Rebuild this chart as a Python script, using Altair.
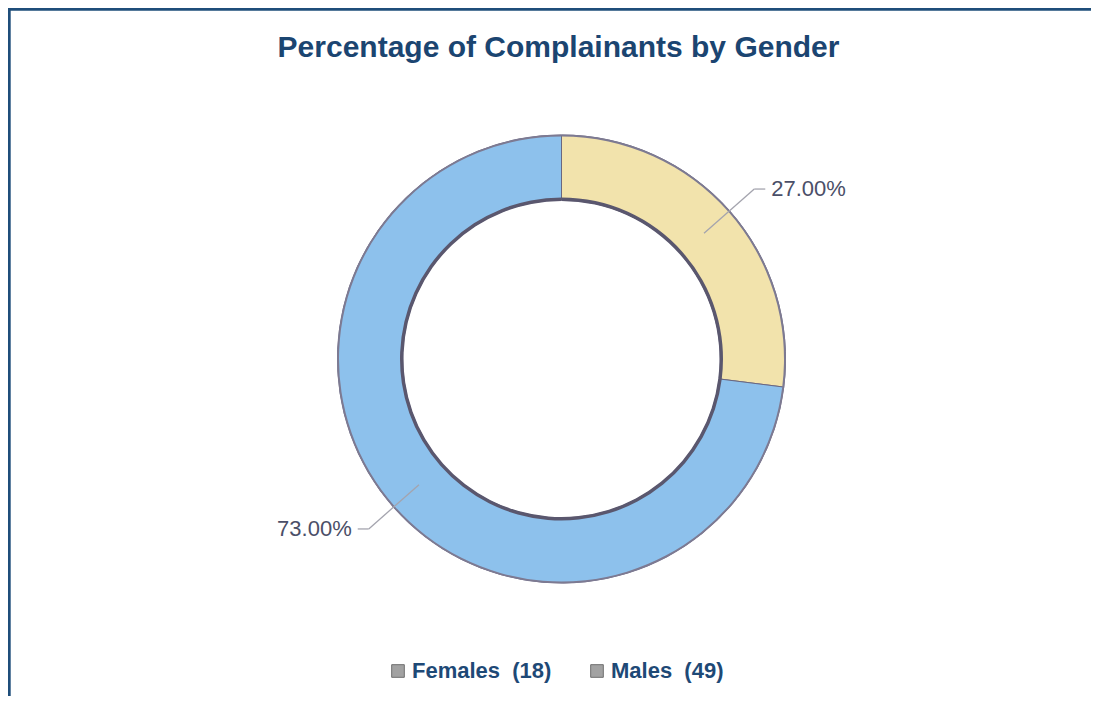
import altair as alt
import pandas as pd

# ---- data ----
genders = ["Females", "Males"]
counts = [18, 49]
percents = [27.0, 73.0]
order_idx = [0, 1]
slice_colors = ["#F2E3AC", "#8DC1EC"]

NB = "\u00a0"
legend_labels = [f"{g}{NB}{NB}({c})" for g, c in zip(genders, counts)]

df = pd.DataFrame({"gender": genders, "count": counts, "pct": percents, "idx": order_idx,
                   "entry": legend_labels})

# ---- layout (plot-area pixels) ----
W, H = 1083, 688
CX, CY = 553.5, 351.0
R_OUT, R_IN = 224, 159
R_LEAD0, R_LEAD1, HOOK = 190, 257, 11

base = alt.Chart(df)

arcs = base.mark_arc(innerRadius=R_IN, outerRadius=R_OUT, stroke="#6a6780", strokeWidth=1).encode(
    theta=alt.Theta("pct:Q", stack=True),
    order=alt.Order("idx:Q"),
    color=alt.Color("gender:N", scale=alt.Scale(domain=genders, range=slice_colors), legend=None),
    x=alt.value(CX),
    y=alt.value(CY),
)

# legend carrier: points hidden beneath the ring whose shape channel yields the grey legend icons
legend_layer = base.mark_point(
    filled=True, color="#a2a2a2", stroke="#6f6f6f", strokeWidth=1, size=100, opacity=1
).encode(
    shape=alt.Shape(
        "entry:N",
        scale=alt.Scale(domain=legend_labels, range=["square", "square"]),
        legend=alt.Legend(
            title=None,
            orient="none",
            legendX=379,
            legendY=652,
            direction="horizontal",
            symbolSize=160,
            symbolStrokeWidth=1,
            symbolOpacity=1,
            labelFont="Liberation Sans",
            labelFontWeight="bold",
            labelFontSize=22,
            labelColor="#1E4976",
            labelOffset=3,
            columnPadding=34,
        ),
    ),
    x=alt.value(CX - 190),
    y=alt.value(CY),
)

inner_ring = base.mark_arc(innerRadius=R_IN - 1, outerRadius=R_IN + 2.5).encode(
    theta=alt.Theta("pct:Q", stack=True),
    order=alt.Order("idx:Q"),
    color=alt.value("#5a576e"),
    x=alt.value(CX),
    y=alt.value(CY),
)

outer_ring = base.mark_arc(innerRadius=R_OUT - 1.5, outerRadius=R_OUT + 0.5).encode(
    theta=alt.Theta("pct:Q", stack=True),
    order=alt.Order("idx:Q"),
    color=alt.value("#7d7a92"),
    x=alt.value(CX),
    y=alt.value(CY),
)

lab = base.transform_window(
    cum="sum(pct)", sort=[alt.SortField("idx")], frame=[None, 0]
).transform_joinaggregate(
    total="sum(pct)"
).transform_calculate(
    mid="(datum.cum - datum.pct/2) / datum.total * 2 * PI",
    side="sin(datum.mid) >= 0 ? 1 : -1",
    label="format(datum.pct, '.2f') + '%'",
).transform_calculate(
    x0=f"{CX} + {R_LEAD0} * sin(datum.mid)",
    y0=f"{CY} - {R_LEAD0} * cos(datum.mid)",
    x1=f"{CX} + {R_LEAD1} * sin(datum.mid)",
    y1=f"{CY} - {R_LEAD1} * cos(datum.mid)",
).transform_calculate(
    x2=f"datum.x1 + datum.side * {HOOK}",
    tx=f"datum.x1 + datum.side * ({HOOK} + 6)",
)

lead_a = lab.mark_rule(color="#a4a4ae", strokeWidth=1.3).encode(
    x=alt.X("x0:Q", scale=None, axis=None),
    y=alt.Y("y0:Q", scale=None, axis=None),
    x2="x1:Q",
    y2="y1:Q",
)
lead_b = lab.mark_rule(color="#a4a4ae", strokeWidth=1.3).encode(
    x=alt.X("x1:Q", scale=None, axis=None),
    y=alt.Y("y1:Q", scale=None, axis=None),
    x2="x2:Q",
)

text_style = dict(font="Liberation Sans", fontSize=22, color="#4B4F68", baseline="middle")
text_r = lab.transform_filter("datum.side > 0").mark_text(align="left", **text_style).encode(
    x=alt.X("tx:Q", scale=None, axis=None),
    y=alt.Y("y1:Q", scale=None, axis=None),
    text="label:N",
)
text_l = lab.transform_filter("datum.side < 0").mark_text(align="right", **text_style).encode(
    x=alt.X("tx:Q", scale=None, axis=None),
    y=alt.Y("y1:Q", scale=None, axis=None),
    text="label:N",
)

frame_top = base.mark_rule(color="#1F4E7A", strokeWidth=2.5).encode(
    x=alt.value(0), x2=alt.value(W), y=alt.value(1.2)
)
frame_left = base.mark_rule(color="#1F4E7A", strokeWidth=2.5).encode(
    x=alt.value(1.2), y=alt.value(0), y2=alt.value(H)
)

chart = alt.layer(
    legend_layer, frame_top, frame_left, arcs, outer_ring, inner_ring, lead_a, lead_b, text_r, text_l
).properties(
    width=W,
    height=H,
    padding=0,
    autosize=alt.AutoSizeParams(type="none"),
    title=alt.TitleParams(
        text="Percentage of Complainants by Gender",
        anchor="middle",
        frame="group",
        orient="top",
        offset=-56,
        dx=9,
        font="Liberation Sans",
        fontSize=30,
        fontWeight="bold",
        color="#1B4571",
    ),
).configure_view(stroke=None).configure(background="white")

chart.save("out.html", embed_options={"renderer": "svg", "actions": False})
